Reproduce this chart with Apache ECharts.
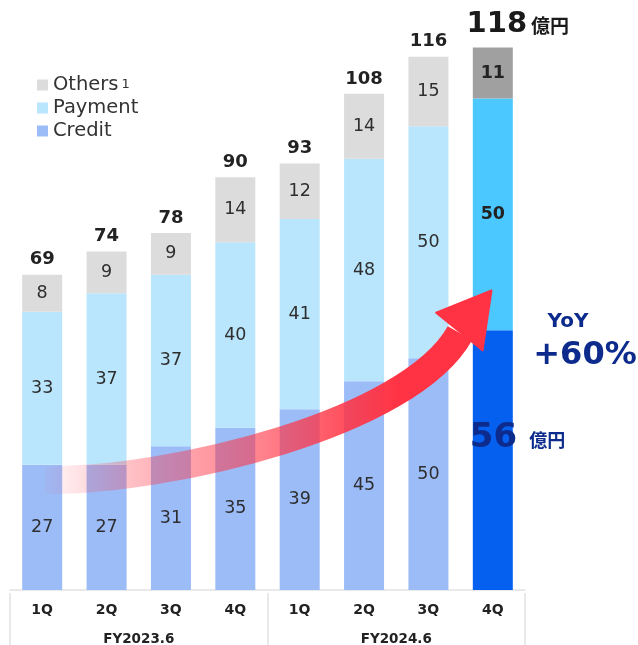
<!DOCTYPE html>
<html><head><meta charset="utf-8">
<script src="https://cdn.jsdelivr.net/npm/echarts/dist/echarts.min.js"></script>
<style>html,body{margin:0;padding:0;background:#fff}#c{width:638px;height:645px}</style>
</head><body><div id="c"></div>
<script>
const categories = ['1Q','2Q','3Q','4Q','1Q','2Q','3Q','4Q'];
const fiscalYears = ['FY2023.6','FY2024.6'];
const seriesNames = ['Credit','Payment','Others'];
const credit  = [27,27,31,35,39,45,50,56];
const payment = [33,37,37,40,41,48,50,50];
const others  = [8,9,9,14,12,14,15,11];
const totals  = [69,74,78,90,93,108,116,118];
const unit = '億円';

const FONT = "'DejaVu Sans', sans-serif";
const CJK = "'Noto Sans CJK JP', sans-serif";
const NAVY = '#0c2b8c';
const baseColors = ['#9cbcf8', '#b9e6fc', '#dcdcdc'];
const lastColors = ['#0560f0', '#4bc8ff', '#a0a0a0'];
const last = categories.length - 1;

function mk(arr, idx, lastLabel) {
  return arr.map((v, i) => {
    if (i !== last) return v;
    return { value: v, itemStyle: { color: lastColors[idx] }, label: lastLabel };
  });
}

const insideLabel = { show: true, position: 'inside', fontFamily: FONT, fontSize: 17.5, color: '#2e2e2e' };
const lastBold = { show: true, fontWeight: 'bold', color: '#222' };

const chart = echarts.init(document.getElementById('c'));
chart.setOption({
  animation: false,
  backgroundColor: '#fff',
  grid: { left: 10, right: 113, top: 15, bottom: 55, outerBoundsMode: 'none', containLabel: false },
  legend: {
    data: ['Others', 'Payment', 'Credit'],
    orient: 'vertical', left: 32, top: 70,
    icon: 'rect', itemWidth: 11, itemHeight: 11, itemGap: 3, itemTextGap: 3,
    selectedMode: false,
    textStyle: { fontFamily: FONT, fontSize: 19.5, color: '#333',
      rich: { s: { fontFamily: FONT, fontSize: 13, color: '#333', padding: [0, 0, 0, 3] } } },
    formatter: n => n === 'Others' ? 'Others{s|1}' : n
  },
  xAxis: [{
    type: 'category', data: categories, offset: 3,
    axisLine: { show: true, lineStyle: { color: '#e2e2e2', width: 1.5 } },
    axisTick: { show: false },
    axisLabel: { margin: 10, fontFamily: FONT, fontSize: 14, fontWeight: 'bold', color: '#222' }
  }, {
    type: 'category', data: fiscalYears, position: 'bottom', offset: 3,
    axisLine: { show: false },
    axisTick: { show: true, length: 60, lineStyle: { color: '#e2e2e2', width: 1.5 } },
    axisLabel: { margin: 39, fontFamily: FONT, fontSize: 13.5, fontWeight: 'bold', color: '#222' }
  }],
  yAxis: { type: 'value', min: 0, max: 124, show: false },
  series: [{
    name: 'Credit', type: 'bar', stack: 'a', barWidth: 40, xAxisIndex: 0,
    itemStyle: { color: baseColors[0] },
    label: insideLabel,
    data: mk(credit, 0, {
      show: true, position: [-3, 108], align: 'left', verticalAlign: 'middle',
      formatter: p => '{a|' + p.value + '}{b|' + unit + '}',
      rich: {
        a: { fontFamily: FONT, fontSize: 34, fontWeight: 'bold', color: NAVY },
        b: { fontFamily: CJK, fontSize: 18, fontWeight: 'bold', color: NAVY, padding: [4, 0, 0, 12] }
      }
    })
  }, {
    name: 'Payment', type: 'bar', stack: 'a', barWidth: 40,
    itemStyle: { color: baseColors[1] },
    label: insideLabel,
    data: mk(payment, 1, lastBold)
  }, {
    name: 'Others', type: 'bar', stack: 'a', barWidth: 40,
    itemStyle: { color: baseColors[2] },
    label: insideLabel,
    data: mk(others, 2, lastBold)
  }, {
    name: 'Total', type: 'bar', stack: 'a', barWidth: 40,
    itemStyle: { color: 'transparent' },
    label: { show: true, position: 'top', distance: 6, fontFamily: FONT, fontSize: 18, fontWeight: 'bold', color: '#222',
      formatter: p => String(totals[p.dataIndex]) },
    data: totals.map((t, i) => i !== last ? 0 : {
      value: 0,
      label: {
        show: true, position: 'top', distance: 8, offset: [25, 0],
        formatter: p => '{a|' + totals[p.dataIndex] + '}{b|' + unit + '}',
        rich: {
          a: { fontFamily: FONT, fontSize: 29, fontWeight: 'bold', color: '#1a1a1a' },
          b: { fontFamily: CJK, fontSize: 19, fontWeight: 'bold', color: '#1a1a1a', padding: [2, 0, 0, 4] }
        }
      }
    })
  }]
});

// Annotation arrow anchored to the axes
const p0 = chart.convertToPixel({ gridIndex: 0 }, [0, 0]);
const p1 = chart.convertToPixel({ gridIndex: 0 }, [1, 0]);
const bw = p1[0] - p0[0];
const P = (cf, v) => chart.convertToPixel({ gridIndex: 0 }, [0, v]).map((c, k) => k === 0 ? p0[0] + cf * bw : c);
const s0 = P(0.04, 23.7), c1 = P(2.0, 23.5), c2 = P(5.71, 35.9), s3 = P(6.49, 55.4);
const hL = P(6.12, 59.8), hT = P(6.98, 64.6), hB = P(6.84, 51.7);
const growth = Math.round((credit[last] / credit[last - 4] - 1) * 100);
const RED = '255,51,68';
chart.setOption({
  graphic: [{
    type: 'bezierCurve', z: 100, silent: true,
    shape: { x1: s0[0], y1: s0[1], x2: s3[0], y2: s3[1], cpx1: c1[0], cpy1: c1[1], cpx2: c2[0], cpy2: c2[1] },
    style: {
      fill: null, lineWidth: 28, lineCap: 'butt',
      stroke: { type: 'linear', x: s0[0], y: 0, x2: s3[0], y2: 0, global: true,
        colorStops: [
          { offset: 0, color: 'rgba(' + RED + ',0.03)' },
          { offset: 0.2, color: 'rgba(' + RED + ',0.3)' },
          { offset: 0.37, color: 'rgba(' + RED + ',0.48)' },
          { offset: 0.53, color: 'rgba(' + RED + ',0.62)' },
          { offset: 0.69, color: 'rgba(' + RED + ',0.82)' },
          { offset: 0.85, color: 'rgba(' + RED + ',1)' },
          { offset: 1, color: 'rgba(' + RED + ',1)' }
        ] }
    }
  }, {
    type: 'polygon', z: 101, silent: true,
    shape: { points: [hL, hT, hB] },
    style: { fill: 'rgb(' + RED + ')', lineJoin: 'round', stroke: 'rgb(' + RED + ')', lineWidth: 2 }
  }, {
    type: 'text', z: 102, silent: true, x: 568, y: 322,
    style: { text: 'YoY', fontFamily: FONT, fontSize: 20, fontWeight: 'bold', fill: NAVY, align: 'center', verticalAlign: 'middle' }
  }, {
    type: 'text', z: 102, silent: true, x: 585, y: 356,
    style: { text: '+' + growth + '%', fontFamily: FONT, fontSize: 32, fontWeight: 'bold', fill: NAVY, align: 'center', verticalAlign: 'middle' }
  }]
});
</script>
</body></html>
